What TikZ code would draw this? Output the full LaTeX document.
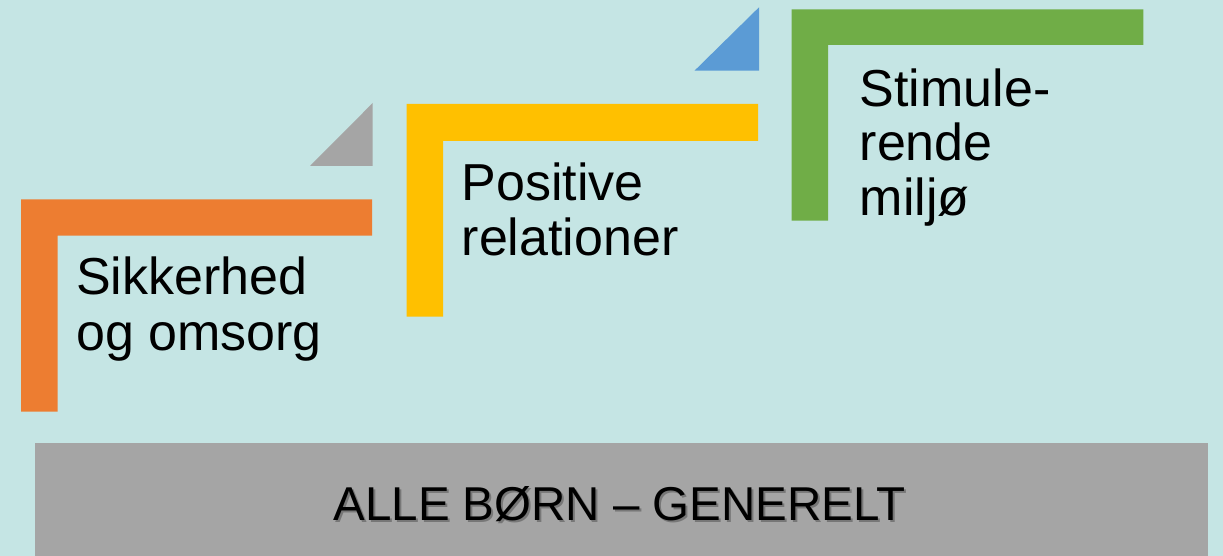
\documentclass[tikz,border=0pt]{standalone}
\usepackage{fontspec}
\setmainfont{Liberation Sans}
\definecolor{bgc}{HTML}{C5E5E4}
\definecolor{orangec}{HTML}{ED7D31}
\definecolor{yellowc}{HTML}{FFC000}
\definecolor{greenc}{HTML}{70AD47}
\definecolor{bluec}{HTML}{5B9BD5}
\definecolor{grayc}{HTML}{A5A5A5}
\begin{document}
\begin{tikzpicture}[x=1pt,y=-1pt,
  steptext/.style={anchor=base west, inner sep=0pt, align=left, font=\fontsize{52}{55}\selectfont, text=black},
  basetext/.style={inner sep=0pt, font=\fontsize{47.5}{55}\selectfont}]
\useasboundingbox (0,0) rectangle (1223,556);
\fill[bgc] (0,0) rectangle (1223,556);
% orange L
\fill[orangec] (21,199.5) -- (372,199.5) -- (372,235.7) -- (57.7,235.7) -- (57.7,411.7) -- (21,411.7) -- cycle;
\node[steptext, font=\fontsize{52}{56.5}\selectfont] (t1) at (76,350.7) {Sikkerhed\\og omsorg};
% gray triangle
\fill[grayc] (310,166) -- (372.7,166) -- (372.7,103) -- cycle;
% yellow L
\fill[yellowc] (406.7,104) -- (758,104) -- (758,141) -- (443,141) -- (443,316.7) -- (406.7,316.7) -- cycle;
\node[steptext] (t2) at (461.5,255.7) {Positive\\relationer};
% blue triangle
\fill[bluec] (694.5,70.7) -- (759,70.7) -- (759,7.3) -- cycle;
% green L
\fill[greenc] (791.5,9.3) -- (1143.3,9.3) -- (1143.3,45) -- (828.2,45) -- (828.2,220.7) -- (791.5,220.7) -- cycle;
\node[steptext, font=\fontsize{52}{54.5}\selectfont] (t3) at (859.5,215) {Stimule-\\rende\\miljø};
% base bar
\fill[grayc] (35,442.7) rectangle (1207.5,556);
\node[basetext, text=black!75, opacity=0.45, anchor=base] (bs) at (621.5,522) {ALLE BØRN – GENERELT};
\node[basetext, text=black, anchor=base] (bt) at (619.5,520) {ALLE BØRN – GENERELT};
\end{tikzpicture}
\end{document}
